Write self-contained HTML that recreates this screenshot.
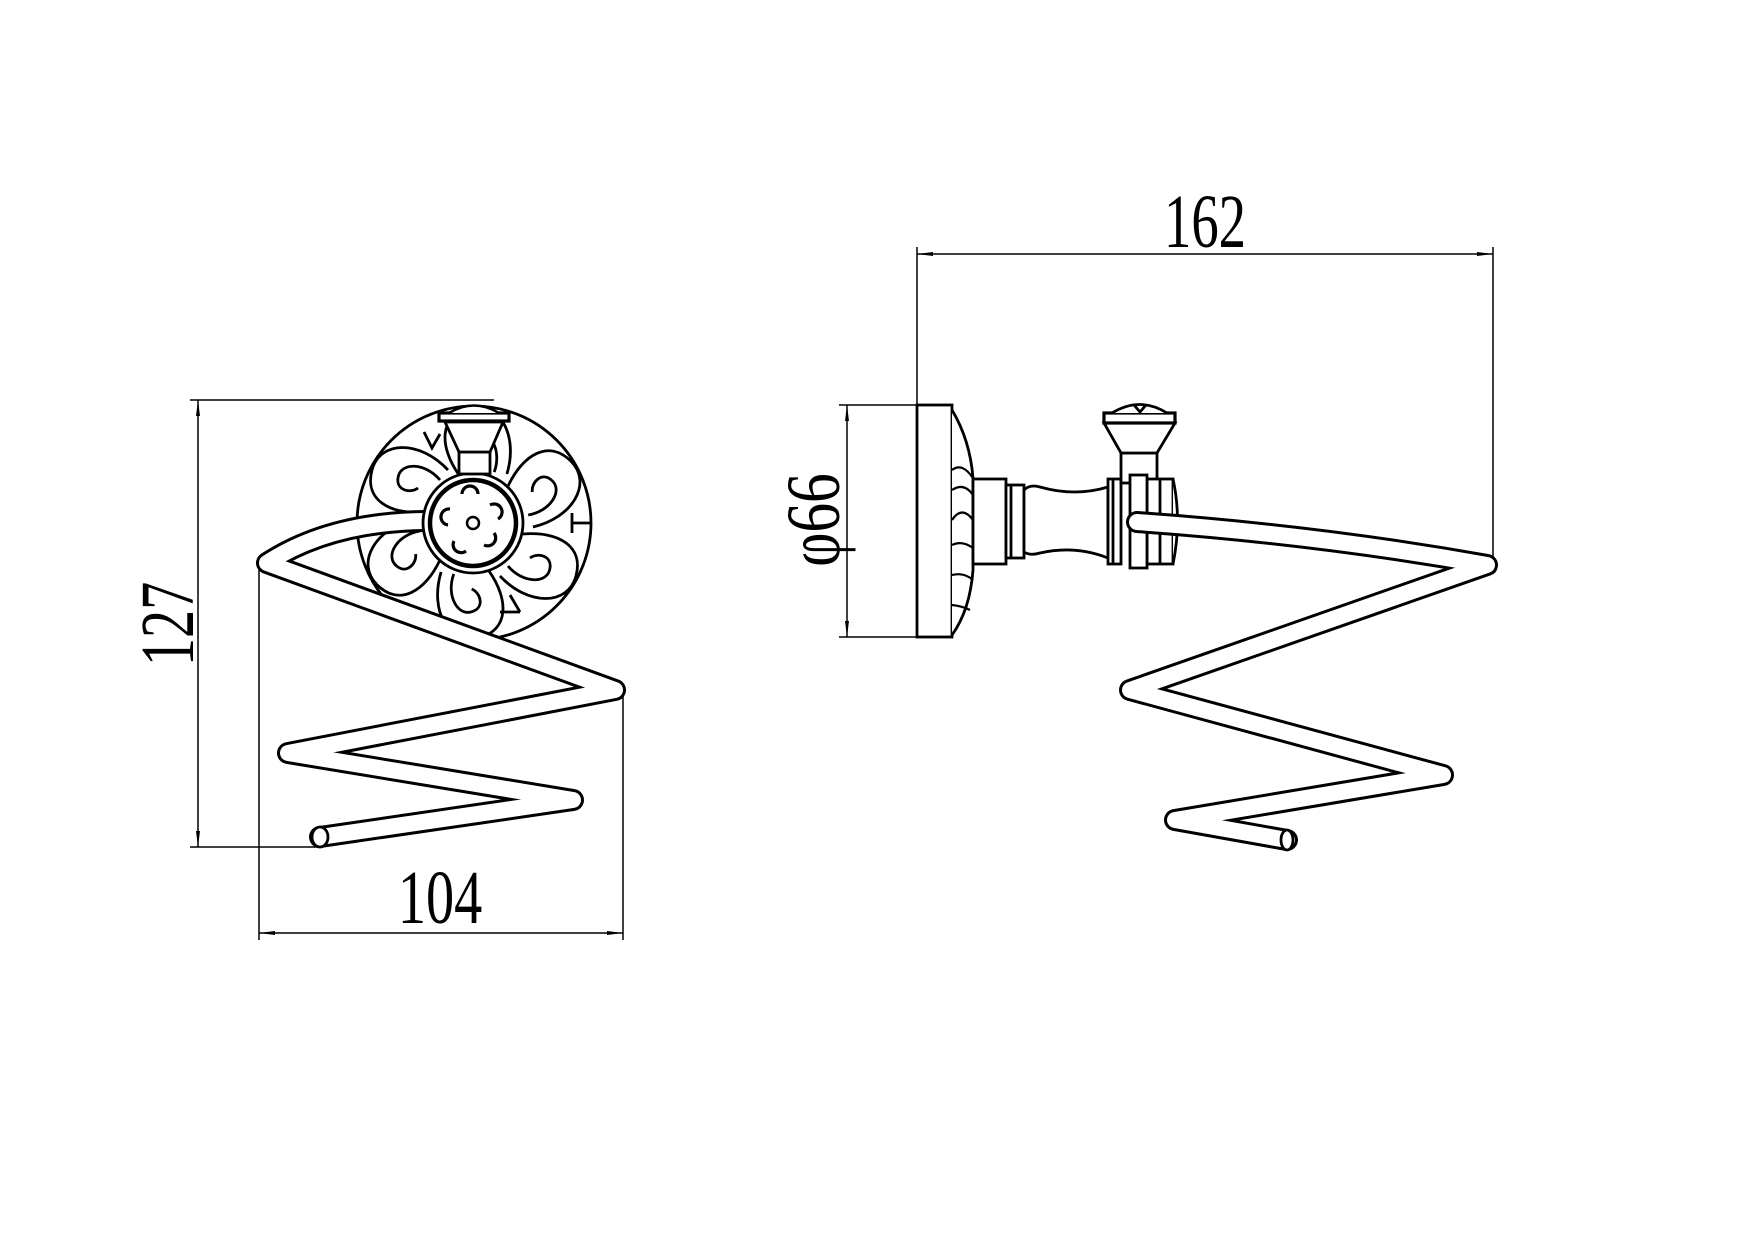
<!DOCTYPE html>
<html><head><meta charset="utf-8"><style>
html,body{margin:0;padding:0;background:#fff}
svg{display:block}
text{font-family:"Liberation Serif",serif;fill:#000}
</style></head><body>
<svg width="1754" height="1240" viewBox="0 0 1754 1240" xmlns="http://www.w3.org/2000/svg">
<defs>
<marker id="ar" markerWidth="16" markerHeight="6" refX="16" refY="3" orient="auto" markerUnits="userSpaceOnUse"><path d="M0,1 L16,3 L0,5 Z" fill="#000"/></marker>
</defs>
<g stroke="#000" stroke-width="1.5" fill="none">
<line x1="190" y1="400" x2="494" y2="400"/>
<line x1="190" y1="847" x2="320" y2="847"/>
<line x1="198" y1="420" x2="198" y2="400" marker-end="url(#ar)"/>
<line x1="198" y1="420" x2="198" y2="827"/>
<line x1="198" y1="827" x2="198" y2="847" marker-end="url(#ar)"/>
<line x1="259" y1="563" x2="259" y2="940"/>
<line x1="623" y1="690" x2="623" y2="940"/>
<line x1="279" y1="933" x2="259" y2="933" marker-end="url(#ar)"/>
<line x1="279" y1="933" x2="603" y2="933"/>
<line x1="603" y1="933" x2="623" y2="933" marker-end="url(#ar)"/>
<line x1="917" y1="247" x2="917" y2="405"/>
<line x1="1493" y1="247" x2="1493" y2="565"/>
<line x1="937" y1="254" x2="917" y2="254" marker-end="url(#ar)"/>
<line x1="937" y1="254" x2="1473" y2="254"/>
<line x1="1473" y1="254" x2="1493" y2="254" marker-end="url(#ar)"/>
<line x1="839" y1="405" x2="917" y2="405"/>
<line x1="839" y1="637" x2="917" y2="637"/>
<line x1="847" y1="425" x2="847" y2="405" marker-end="url(#ar)"/>
<line x1="847" y1="425" x2="847" y2="617"/>
<line x1="847" y1="617" x2="847" y2="637" marker-end="url(#ar)"/>
</g>
<text x="0" y="0" font-size="76" text-anchor="middle" transform="translate(440,923) scale(0.74,1)">104</text>
<text x="0" y="0" font-size="76" text-anchor="middle" transform="translate(1205,247) scale(0.72,1)">162</text>
<text x="0" y="0" font-size="76" text-anchor="middle" transform="translate(193,624) rotate(-90) scale(0.74,1)">127</text>
<text x="0" y="0" font-size="76" text-anchor="middle" transform="translate(839,520) rotate(-90) scale(0.78,1)">φ66</text>

<g stroke="#000" stroke-width="2.8" fill="none">
<circle cx="474" cy="523" r="117" fill="#fff"/>
<g id="pet">
<path d="M448,470 C420,440 380,440 372,470 C364,500 390,515 425,512"/>
<path d="M440,480 C425,462 400,462 398,478 C396,490 410,494 418,488"/>
</g>
<use href="#pet" transform="rotate(60 474 523)"/>
<use href="#pet" transform="rotate(120 474 523)"/>
<use href="#pet" transform="rotate(180 474 523)"/>
<use href="#pet" transform="rotate(240 474 523)"/>
<use href="#pet" transform="rotate(300 474 523)"/>
<path d="M424,432 L432,448 L440,434 M590,523 L572,523 M572,513 L572,533 M520,612 L510,595 M500,612 L520,612"/>
</g>
<g fill="none" stroke-linejoin="round" stroke-linecap="round">
<path d="M425,521 Q330,522 267,563 L615,690 L288,753 L573,800 L320,837" stroke="#000" stroke-width="22"/>
<path d="M425,521 Q330,522 267,563 L615,690 L288,753 L573,800 L320,837" stroke="#fff" stroke-width="16"/>
</g>
<ellipse cx="320" cy="837" rx="8" ry="10" fill="#fff" stroke="#000" stroke-width="2.8"/>
<g stroke="#000" fill="#fff">
<circle cx="473" cy="523" r="50" stroke-width="2.8"/>
<circle cx="473" cy="523" r="43" stroke-width="4.5"/>
<circle cx="473" cy="523" r="6" stroke-width="2.5"/>
<g fill="none" stroke-width="3.2">
<path d="M462,494 a8,8 0 0 1 16,0 M490,505 a8,8 0 0 1 8,14 M494,533 a8,8 0 0 1 -10,12 M466,551 a8,8 0 0 1 -12,-10 M448,525 a8,8 0 0 1 2,-16"/>
</g>
<rect x="459" y="452" width="31" height="22" stroke-width="2.8"/>
<path d="M445,422 L503,422 L490,452 L459,452 Z" stroke-width="2.8"/>
<rect x="439" y="413" width="70" height="8" stroke-width="3.2"/>
<path d="M449,413 Q474,398 499,413" stroke-width="2.5"/>
</g>

<g stroke="#000" stroke-width="2.8" fill="#fff">
<rect x="917" y="405" width="35" height="232"/>
<path d="M952,410 Q970,440 973,478 L973,570 Q970,610 952,635"/>
<g fill="none" stroke-width="2.2">
<path d="M952,470 Q962,462 973,478 M952,490 Q964,482 973,495 M952,520 Q962,505 973,520 M952,545 Q962,540 973,548 M952,575 Q964,572 973,580 M952,605 Q962,606 970,610"/>
</g>
<rect x="973" y="479" width="33" height="85"/>
<rect x="1006" y="485" width="18" height="73"/>
<line x1="1011" y1="485" x2="1011" y2="558"/>
<path d="M1024,490 Q1030,484 1040,487 Q1075,497 1108,487 L1108,558 Q1075,545 1040,553 Q1030,556 1024,552 Z"/>
<rect x="1108" y="479" width="13" height="85"/>
<line x1="1113" y1="479" x2="1113" y2="564"/>
<rect x="1121" y="453" width="36" height="30"/>
<path d="M1104,423 L1175,423 L1157,453 L1121,453 Z"/>
<rect x="1104" y="413" width="71" height="10" stroke-width="3.2"/>
<path d="M1112,413 Q1140,396 1167,413"/>
<path d="M1134,405 L1140,412 L1146,405" fill="none"/>
<rect x="1147" y="479" width="26" height="85"/>
<line x1="1160" y1="479" x2="1160" y2="564"/>
<path d="M1173,479 Q1182,520 1173,564"/>
<rect x="1130" y="475" width="17" height="93"/>
</g>
<g fill="none" stroke-linejoin="round" stroke-linecap="round">
<path d="M1137,522 Q1320,535 1487,565 L1130,690 L1443,775 L1175,820 L1287,840" stroke="#000" stroke-width="22"/>
<path d="M1137,522 Q1320,535 1487,565 L1130,690 L1443,775 L1175,820 L1287,840" stroke="#fff" stroke-width="16"/>
</g>
<ellipse cx="1287" cy="840" rx="6" ry="10" fill="#fff" stroke="#000" stroke-width="2.8"/>
</svg>
</body></html>
